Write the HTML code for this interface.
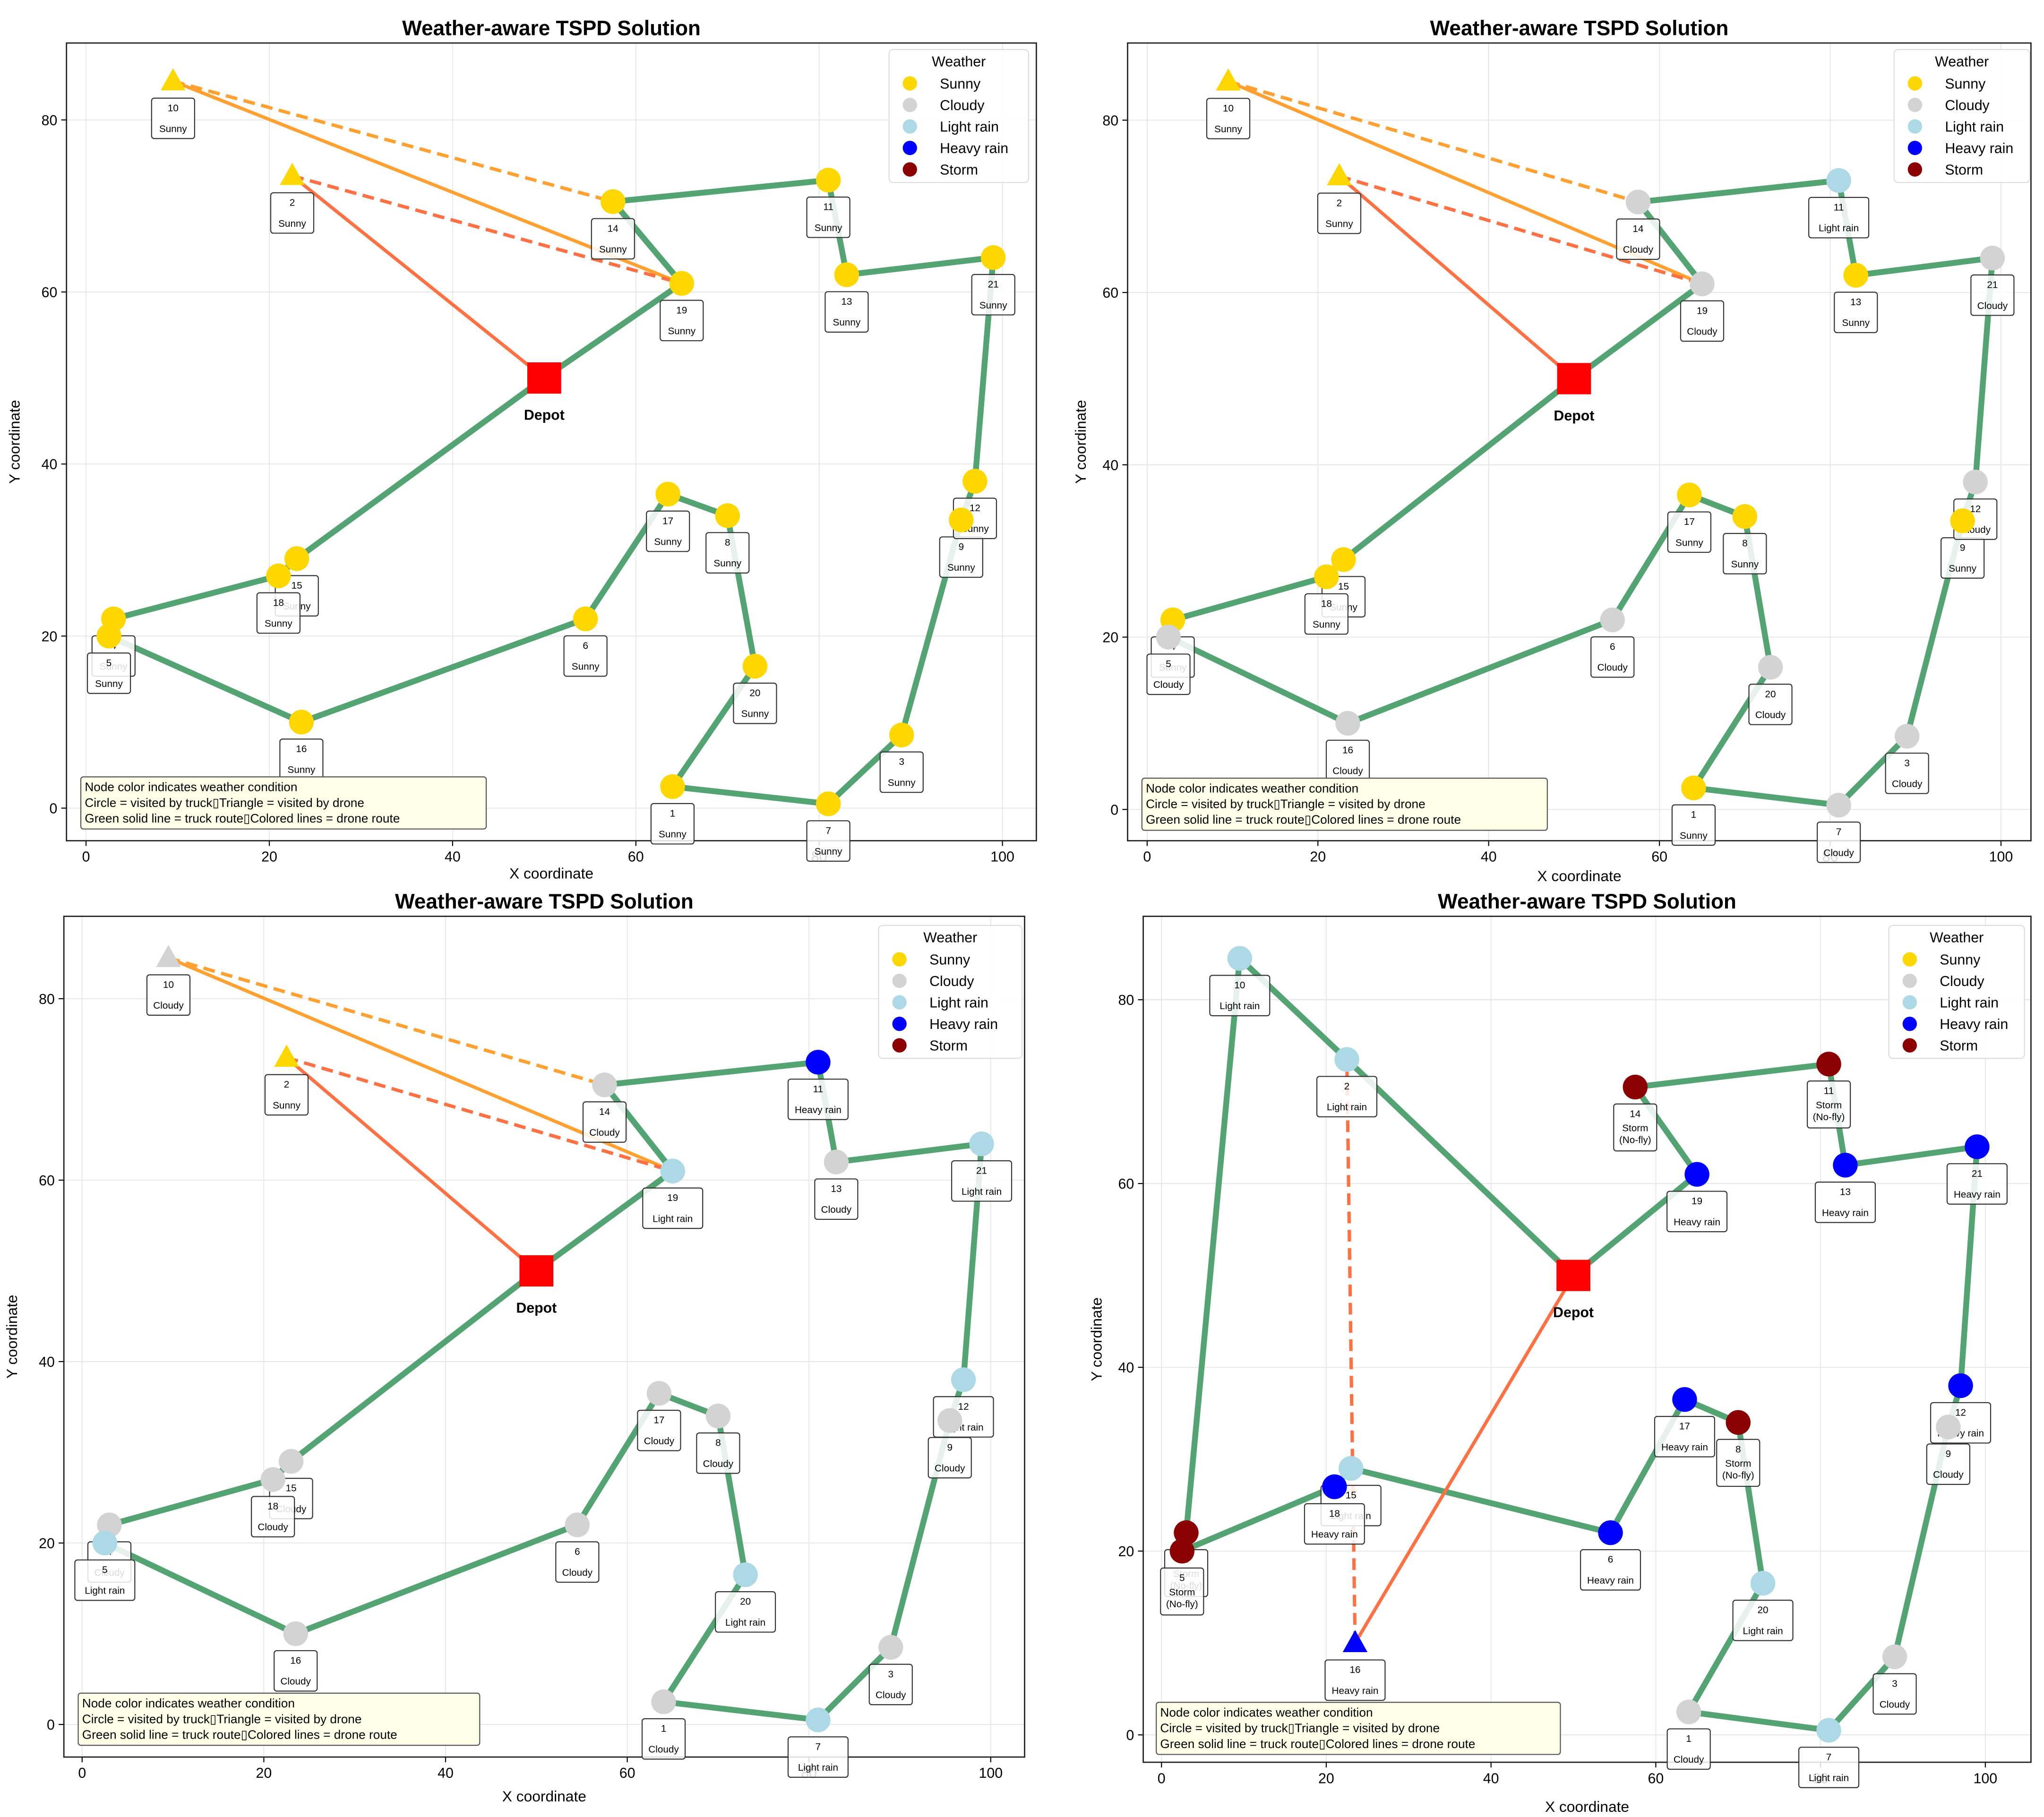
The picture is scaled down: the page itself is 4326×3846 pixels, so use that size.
<!DOCTYPE html>
<html><head><meta charset="utf-8"><style>
html,body{margin:0;padding:0;background:#fff;}
svg{display:block;font-family:"Liberation Sans","DejaVu Sans",sans-serif;}
</style></head><body>
<svg id="chart" width="4326" height="3846" viewBox="0 0 1568 1394" preserveAspectRatio="none" xmlns="http://www.w3.org/2000/svg"></svg>
<script>
const nodeIds = [1,2,3,4,5,6,7,8,9,10,11,12,13,14,15,16,17,18,19,20,21];
const nodeX = [64,22.5,89,3,2.5,54.5,81,70,95.5,9.5,81,97,83,57.5,23,23.5,63.5,21,65,73,99];
const nodeY = [2.5,73.5,8.5,22,20,22,0.5,34,33.5,84.5,73,38,62,70.5,29,10,36.5,27,61,16.5,64];
const depot = [50,50];
const routeA = [0,19,14,11,13,21,12,9,3,7,1,20,8,17,6,16,5,4,18,15,0];
const routeB = [0,2,10,4,5,18,15,6,17,8,20,1,7,3,9,12,21,13,11,14,19,0];
const weatherP1 = ["S","S","S","S","S","S","S","S","S","S","S","S","S","S","S","S","S","S","S","S","S"];
const weatherP2 = ["S","S","C","S","C","C","C","S","S","S","L","C","S","C","S","C","S","S","C","C","C"];
const weatherP3 = ["C","S","C","C","L","C","L","C","C","C","H","L","C","C","C","C","C","C","L","L","L"];
const weatherP4 = ["C","L","C","X","X","H","L","X","C","L","X","H","H","X","L","H","H","H","H","L","H"];
const xTicks = [0,20,40,60,80,100];
const yTicks = [0,20,40,60,80];
const legendNames = ["Sunny","Cloudy","Light rain","Heavy rain","Storm"];
const legendKeys = ["S","C","L","H","X"];

const wColor = {S:"#FFD700",C:"#D3D3D3",L:"#ADD8E6",H:"#0000FF",X:"#8B0000"};
const wName = {S:"Sunny",C:"Cloudy",L:"Light rain",H:"Heavy rain",X:"Storm"};
const svg = document.getElementById('chart');
const NS = "http://www.w3.org/2000/svg";
function mk(tag, attrs, parent){const e=document.createElementNS(NS,tag);for(const k in attrs)e.setAttribute(k,attrs[k]);(parent||svg).appendChild(e);return e;}
function tx(str, attrs, parent){const e=mk('text',attrs,parent);e.textContent=str;return e;}

const panels = [
 {L:51,R:795,T:33,B:645,x0:66,xs:7.03,y0:620,ys:6.6,w:weatherP1,route:routeA,drone:'A',xl:670,yl:15,leg:[682,38,107],info:[62,596,311]},
 {L:865,R:1558,T:33,B:645,x0:880,xs:6.55,y0:621,ys:6.61,w:weatherP2,route:routeA,drone:'A',xl:672,yl:833,leg:[1453,38,104],info:[876,597,311]},
 {L:49,R:786,T:703,B:1348,x0:63,xs:6.97,y0:1323,ys:6.96,w:weatherP3,route:routeA,drone:'A',xl:1378,yl:13,leg:[674,710,110],info:[60,1299,308]},
 {L:877,R:1558,T:703,B:1352,x0:891,xs:6.32,y0:1331,ys:7.05,w:weatherP4,route:routeB,drone:'B',xl:1386,yl:845,leg:[1449,710,104],info:[887,1306,310]}
];

panels.forEach((p,pi)=>{
  const g = mk('g',{});
  
  
  const X = v=>p.x0+v*p.xs, Y = v=>p.y0-v*p.ys;
  const P = id=> id===0 ? [X(depot[0]),Y(depot[1])] : [X(nodeX[id-1]),Y(nodeY[id-1])];
  const cx=(p.L+p.R)/2;
  const t=tx('Weather-aware TSPD Solution',{x:cx,y:p.T-6,'text-anchor':'middle','font-size':16,'font-weight':'bold'},g);
  
  xTicks.forEach(v=>{
    const gl=mk('line',{x1:X(v),x2:X(v),y1:p.T,y2:p.B,stroke:'#e6e6e6','stroke-width':0.7},g);
    
    mk('line',{x1:X(v),x2:X(v),y1:p.B,y2:p.B+4,stroke:'#000','stroke-width':0.8},g);
    const l=tx(String(v),{x:X(v),y:p.B+16,'text-anchor':'middle','font-size':11},g);
    
  });
  yTicks.forEach(v=>{
    const gl=mk('line',{x1:p.L,x2:p.R,y1:Y(v),y2:Y(v),stroke:'#e6e6e6','stroke-width':0.7},g);
    
    mk('line',{x1:p.L-4,x2:p.L,y1:Y(v),y2:Y(v),stroke:'#000','stroke-width':0.8},g);
    const l=tx(String(v),{x:p.L-7,y:Y(v)+4,'text-anchor':'end','font-size':11},g);
    
  });
  const fr=mk('rect',{x:p.L,y:p.T,width:p.R-p.L,height:p.B-p.T,fill:'none',stroke:'#222','stroke-width':1},g);
  
  const xl=tx('X coordinate',{x:cx,y:p.xl+4,'text-anchor':'middle','font-size':11.5},g);
  
  const ym=(p.T+p.B)/2;
  const yl=tx('Y coordinate',{x:p.yl,y:ym,'text-anchor':'middle','font-size':11.5,transform:`rotate(-90 ${p.yl} ${ym})`},g);
  
  const pts=p.route.map(id=>P(id).join(',')).join(' ');
  const tr=mk('polyline',{points:pts,fill:'none',stroke:'#4a9e6c','stroke-width':4.5,'stroke-linejoin':'round',opacity:0.95},g);
  
  function dl(a,b,col,dash,name){const A=P(a),B=P(b);const l=mk('line',{x1:A[0],y1:A[1],x2:B[0],y2:B[1],stroke:col,'stroke-width':2.6},g);if(dash)l.setAttribute('stroke-dasharray','9,5');}
  let droneNodes=[];
  if(p.drone==='A'){
    dl(19,10,'#FFA030',false,'drone-route-10-out');
    dl(10,14,'#FFA030',true,'drone-route-10-back');
    dl(0,2,'#FF7043',false,'drone-route-2-out');
    dl(2,19,'#FF7043',true,'drone-route-2-back');
    droneNodes=[10,2];
  } else {
    dl(0,16,'#FF7043',false,'drone-route-16-out');
    dl(16,2,'#FF7043',true,'drone-route-16-back');
    droneNodes=[16];
  }
  nodeIds.forEach((id,i)=>{
    const [x,y]=P(id); const w=p.w[i];
    const lines = w==='X' ? [String(id),'Storm','(No-fly)'] : [String(id),wName[w]];
    const bw = (w==='L'||w==='H') ? 46 : 33;
    const bh = w==='X' ? 36 : 31;
    const lg=mk('g',{},g);
    
    mk('rect',{x:x-bw/2,y:y+13,width:bw,height:bh,rx:2,fill:'#fff','fill-opacity':0.85,stroke:'#333','stroke-width':0.8},lg);
    tx(lines[0],{x:x,y:y+23,'text-anchor':'middle','font-size':7.5},lg);
    if(w==='X'){tx(lines[1],{x:x,y:y+34,'text-anchor':'middle','font-size':7.5},lg);tx(lines[2],{x:x,y:y+43,'text-anchor':'middle','font-size':7.5},lg);}
    else tx(lines[1],{x:x,y:y+39,'text-anchor':'middle','font-size':7.5},lg);
  });
  nodeIds.forEach((id,i)=>{
    const [x,y]=P(id); const c=wColor[p.w[i]];
    let m;
    if(droneNodes.includes(id)) m=mk('polygon',{points:`${x},${y-10} ${x-9.5},${y+7} ${x+9.5},${y+7}`,fill:c},g);
    else m=mk('ellipse',{cx:x,cy:y,rx:9.5,ry:9.5,fill:c},g);
    
  });
  const [dx,dy]=P(0);
  const dp=mk('rect',{x:dx-13,y:dy-12,width:26,height:24,fill:'#FF0000'},g);
  
  const dt=tx('Depot',{x:dx,y:dy+32,'text-anchor':'middle','font-size':11,'font-weight':'bold'},g);
  
  const [lx,ly,lw]=p.leg;
  const lgd=mk('g',{},g);
  
  mk('rect',{x:lx,y:ly,width:lw,height:102,rx:3,fill:'#fff','fill-opacity':0.9,stroke:'#ddd','stroke-width':0.8},lgd);
  tx('Weather',{x:lx+lw/2,y:ly+13,'text-anchor':'middle','font-size':11},lgd);
  legendKeys.forEach((k,j)=>{
    const e=mk('g',{},lgd);
    
    
    mk('circle',{cx:lx+16,cy:ly+26+j*16.5,r:5.5,fill:wColor[k]},e);
    tx(legendNames[j],{x:lx+39,y:ly+30+j*16.5,'font-size':11},e);
  });
  const [ix,iy,iw]=p.info;
  const ib=mk('g',{},g);
  
  mk('rect',{x:ix,y:iy,width:iw,height:40,rx:2,fill:'#FFFFE8',stroke:'#555','stroke-width':0.8},ib);
  tx('Node color indicates weather condition',{x:ix+3,y:iy+11,'font-size':9.5},ib);
  tx('Circle = visited by truck\u25AFTriangle = visited by drone',{x:ix+3,y:iy+23,'font-size':9.5},ib);
  tx('Green solid line = truck route\u25AFColored lines = drone route',{x:ix+3,y:iy+35,'font-size':9.5},ib);
});
</script>
</body></html>
